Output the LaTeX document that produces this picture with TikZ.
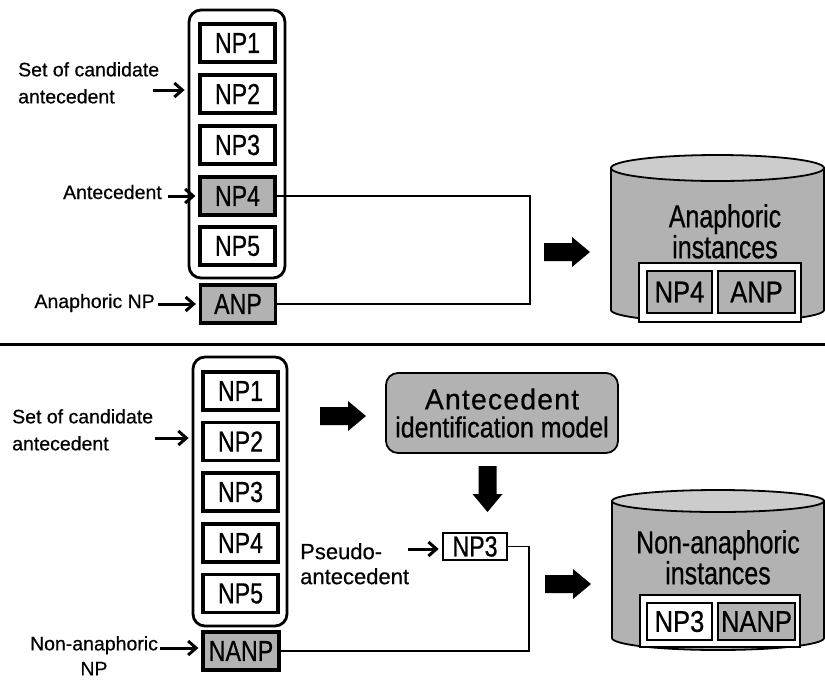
\documentclass[tikz,border=0pt]{standalone}
\usepackage{fontspec}
\setmainfont[FakeBold=0.5]{Liberation Sans}
\newfontfamily\boxfont[FakeStretch=0.80,FakeBold=0.6]{Liberation Sans}
\newfontfamily\cylfont[FakeStretch=0.78,FakeBold=0.6]{Liberation Sans}
\newfontfamily\innerfont[FakeStretch=0.85,FakeBold=0.6]{Liberation Sans}
\newfontfamily\modelfont[FakeStretch=0.86,FakeBold=0.6]{Liberation Sans}
\newfontfamily\spacedfont[FakeStretch=0.98,FakeBold=0.6,LetterSpace=4]{Liberation Sans}
\usetikzlibrary{arrows.meta}
\definecolor{shade}{gray}{0.70}
\definecolor{shadelight}{gray}{0.80}
\tikzset{
  npbox/.style={draw, line width=3.2pt, minimum width=75pt, minimum height=38pt, inner sep=0pt,
    font=\boxfont\fontsize{29}{30}\selectfont},
  shaded/.style={fill=shade},
  setbox/.style={draw, line width=2.8pt, rounded corners=12pt, inner sep=0pt},
  lbl/.style={inner sep=0pt, font=\fontsize{19.5}{27}\selectfont},
  lblarr/.style={line width=3pt, -{Straight Barb[length=8pt,width=14pt]}, shorten >=3pt},
  conn/.style={line width=1.8pt},
  cyl/.style={draw, line width=1.8pt, fill=shade},
  cyltop/.style={draw, line width=1.8pt, fill=shadelight},
  cyltext/.style={inner sep=0pt, align=center, font=\cylfont\fontsize{32}{28}\selectfont},
  outerbox/.style={draw, line width=2.8pt, fill=white, inner sep=0pt},
  innerbox/.style={draw, line width=2.8pt, inner sep=0pt, font=\innerfont\fontsize{30}{30}\selectfont},
  blockarrow/.pic={\fill (0,-9) -- (28,-9) -- (28,-15) -- (46,0) -- (28,15) -- (28,9) -- (0,9) -- cycle;}
}
\begin{document}
\begin{tikzpicture}[x=1pt,y=-1pt]
\useasboundingbox (0,0) rectangle (825,681);

% ---------------- top panel ----------------
\node[setbox, minimum width=96pt, minimum height=268pt] (setA) at (237,144) {};
\node[npbox] (a1) at (237.5,43) {NP1};
\node[npbox] (a2) at (237.5,94) {NP2};
\node[npbox] (a3) at (237.5,145) {NP3};
\node[npbox, shaded] (a4) at (237.5,196) {NP4};
\node[npbox] (a5) at (237.5,246) {NP5};
\node[npbox, shaded] (anp) at (238,304) {ANP};

\node[lbl, align=left, anchor=north west] (lblSetA) at (18,62) {Set of candidate\\antecedent};
\coordinate (sA) at (153,90);
\draw[lblarr] (sA) -- (sA -| setA.west);
\node[lbl, anchor=base east] (lblAnt) at (162,199) {Antecedent};
\coordinate (antS) at (168,196);
\draw[lblarr] (antS) -- (a4.west);
\node[lbl, anchor=base east] (lblAnp) at (155,308) {Anaphoric NP};
\coordinate (anpS) at (158,304);
\draw[lblarr] (anpS) -- (anp.west);

\coordinate (turnA) at (530,250);
\draw[conn] (a4.east) -- (a4.east -| turnA) |- (anp.east);

\pic at (544,252) {blockarrow};

% cylinder top
\path[cyl] (611,168) -- (611,310) arc[start angle=180, end angle=0, x radius=106.5, y radius=12] -- (824,168) -- cycle;
\draw[cyltop] (717.5,168) ellipse[x radius=106.5, y radius=13];
\node[cyltext, anchor=north] (cylA) at (725,204) {Anaphoric\\instances};
\node[outerbox, minimum width=162pt, minimum height=59pt] (instA) at (720,292.5) {};
\node[innerbox, shaded, minimum width=65pt, minimum height=42pt] (ia1) at (679.5,292) {NP4};
\node[innerbox, shaded, minimum width=77pt, minimum height=42pt] (ia2) at (756.5,292) {ANP};

% separator
\coordinate (sepL) at (0,344);
\coordinate (sepR) at (825,344);
\draw[line width=3pt] (sepL) -- (sepR);

% ---------------- bottom panel ----------------
\node[setbox, minimum width=94pt, minimum height=269pt] (setB) at (240,491.5) {};
\node[npbox] (b1) at (240.5,391) {NP1};
\node[npbox] (b2) at (240.5,441.5) {NP2};
\node[npbox] (b3) at (240.5,492) {NP3};
\node[npbox] (b4) at (240.5,543) {NP4};
\node[npbox] (b5) at (240.5,593.5) {NP5};
\node[npbox, shaded, minimum width=76pt] (nanp) at (241,651) {NANP};

\node[lbl, align=left, anchor=north west] (lblSetB) at (12,409) {Set of candidate\\antecedent};
\coordinate (sB) at (155,438);
\draw[lblarr] (sB) -- (sB -| setB.west);
\node[lbl, align=center, anchor=north, font=\fontsize{19.5}{25}\selectfont] (lblNanp) at (94,636) {Non-anaphoric\\NP};
\coordinate (nanpS) at (160,648);
\draw[lblarr] (nanpS) -- (nanp.west |- nanpS);

\pic at (320,416) {blockarrow};
\node[draw, line width=1.8pt, fill=shade, rounded corners=12pt, minimum width=232pt, minimum height=80pt,
  inner sep=0pt, align=center, font=\modelfont\fontsize{29}{28}\selectfont] (model) at (502,413)
  {{\spacedfont Antecedent}\\identification model};
\pic[rotate=-90] at (487.5,466) {blockarrow};

\node[draw, line width=2.6pt, minimum width=64pt, minimum height=27pt, inner sep=0pt,
  font=\boxfont\fontsize{29}{30}\selectfont] (np3p) at (475,546.5) {NP3};
\node[lbl, align=left, anchor=north west, font=\fontsize{22}{25}\selectfont] (lblPseudo) at (300,543) {Pseudo-\\antecedent};
\coordinate (psS) at (408,549);
\draw[lblarr] (psS) -- (np3p.west |- psS);

\coordinate (turnB) at (529,600);
\draw[conn] (np3p.east) -- (np3p.east -| turnB) |- (nanp.east);

\pic at (545,584) {blockarrow};

% cylinder bottom
\path[cyl] (612,501) -- (612,638) arc[start angle=180, end angle=0, x radius=106, y radius=12] -- (824,501) -- cycle;
\draw[cyltop] (718,501) ellipse[x radius=106, y radius=11];
\node[cyltext, anchor=north] (cylB) at (718,530) {Non-anaphoric\\instances};
\node[outerbox, minimum width=160pt, minimum height=52pt] (instB) at (720,621) {};
\node[innerbox, fill=white, minimum width=65pt, minimum height=37pt] (ib1) at (679.5,621.5) {NP3};
\node[innerbox, shaded, minimum width=77pt, minimum height=37pt] (ib2) at (756.5,621.5) {NANP};
\end{tikzpicture}
\end{document}
